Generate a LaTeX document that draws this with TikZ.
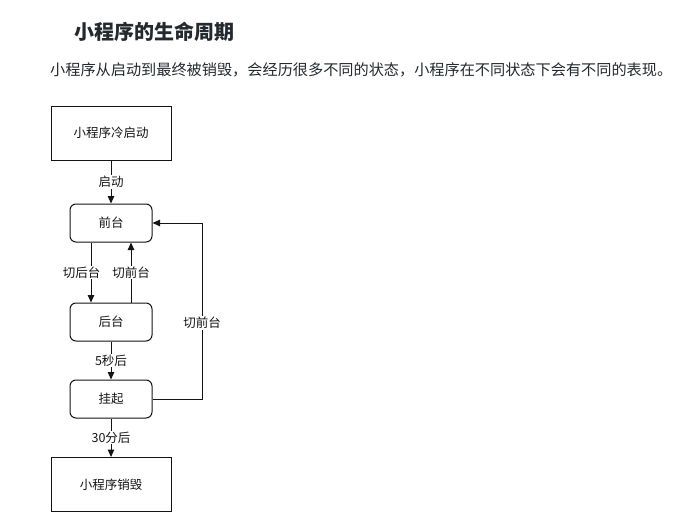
\documentclass[tikz,border=0pt]{standalone}
\usepackage{fontspec}
\setmainfont{Noto Sans CJK SC}
\usepackage{tikz}
\usetikzlibrary{arrows.meta,positioning}
\definecolor{inkcolor}{RGB}{20,20,20}
\definecolor{textcolor}{RGB}{36,41,46}

\begin{document}
\begin{tikzpicture}[x=1pt,y=-1pt, every node/.style={font=\fontsize{12.5}{14}\selectfont,text=inkcolor},
    statebox/.style={draw=inkcolor,line width=1pt,minimum width=82pt,minimum height=38pt,rounded corners=6pt},
    endbox/.style={draw=inkcolor,line width=1pt,minimum width=120pt,minimum height=54pt},
    flow/.style={-{Triangle[length=7.5pt,width=6.5pt]},line width=1pt,draw=inkcolor},
    lbl/.style={fill=white,inner sep=1pt}]
        \useasboundingbox (0,0) rectangle (688,530);

        % heading and intro line
        \node[right,font=\fontsize{20}{24}\bfseries\selectfont,text=textcolor] (title) at (71,32) {小程序的生命周期};
        \node[right,text=textcolor,inner sep=0pt] (intro) at (50,70)
          {\resizebox{622pt}{!}{小程序从启动到最终被销毁，会经历很多不同的状态，小程序在不同状态下会有不同的表现。}};

        % states
        \node[endbox] (cold) at (111,133) {小程序冷启动};
        \node[statebox] (fg) at (111,223) {前台};
        \node[statebox] (bg) at (111,322) {后台};
        \node[statebox] (hang) at (111,399) {挂起};
        \node[endbox] (gone) at (111,484.5) {小程序销毁};
        \coordinate (loop) at (202,399);

        % transitions
        \draw[flow] (cold) -- (fg) node[midway,lbl] {启动};
        \draw[flow] ([xshift=-20pt]fg.south) -- ([xshift=-20pt]bg.north)
          node[midway,lbl,xshift=-9.5pt] {切后台};
        \draw[flow] ([xshift=20pt]bg.north) -- ([xshift=20pt]fg.south)
          node[midway,lbl] {切前台};
        \draw[flow] (bg) -- (hang) node[midway,lbl] {5秒后};
        \draw[flow] (hang) -- (gone) node[midway,lbl] {30分后};
        \draw[flow] (hang.east) -- (loop) |- (fg.east)
          node[pos=0.216,lbl] {切前台};
      \end{tikzpicture}
\end{document}
